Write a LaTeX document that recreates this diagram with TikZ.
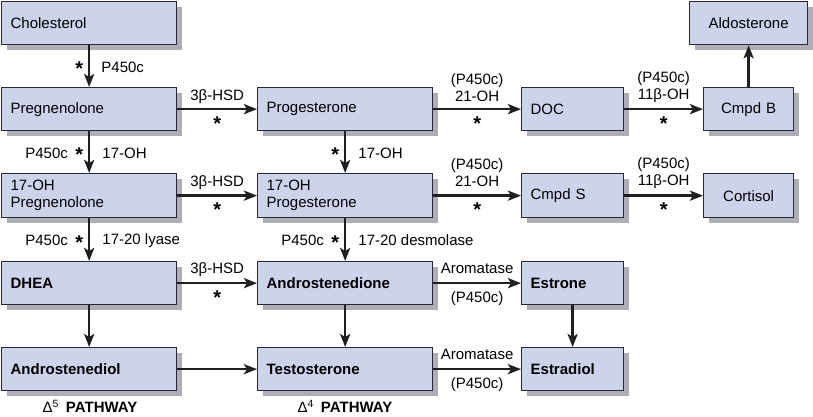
\documentclass[tikz,border=0pt]{standalone}
\usepackage{fontspec}
\setmainfont{Liberation Sans}
\usetikzlibrary{arrows.meta,shadows}
\definecolor{boxfill}{RGB}{206,211,236}
\definecolor{boxline}{RGB}{40,40,55}
\definecolor{shadecol}{RGB}{165,165,175}
\newcommand{\st}{{\fontsize{20}{20}\selectfont\textbf{*}}}
\begin{document}
\begin{tikzpicture}[x=1pt,y=-1pt, font=\fontsize{15}{17}\selectfont,
 box/.style={draw=boxline, line width=1.3pt, fill=boxfill, inner xsep=9pt, inner ysep=0pt,
   align=left, anchor=north west, minimum height=43pt,
   drop shadow={shadow xshift=5pt, shadow yshift=-5pt, fill=shadecol, opacity=0.9}},
 wa/.style={text width=157pt},
 wb/.style={text width=84pt},
 wc/.style={text width=72pt, align=center},
 wd/.style={text width=100pt, align=center},
 bf/.style={font=\fontsize{15}{17}\selectfont\bfseries},
 arr/.style={-{Stealth[length=13pt,width=10pt,inset=3pt]}, line width=2.6pt, draw=black!88},
 lab/.style={inner sep=0pt},
 star/.style={inner sep=0pt, pos=0.52},
]
\useasboundingbox (0,0) rectangle (813,416);
% column 1
\node[box,wa] (chol) at (1,1) {Cholesterol};
\node[box,wa] (preg) at (1,87) {Pregnenolone};
\node[box,wa,minimum height=44pt] (ohp) at (1,173) {17-OH\\Pregnenolone};
\node[box,wa,bf] (dhea) at (1,261) {DHEA};
\node[box,wa,bf] (adiol) at (1,347) {Androstenediol};
% column 2
\node[box,wa] (prog) at (257,87) {Progesterone};
\node[box,wa,minimum height=44pt] (ohprog) at (257,173) {17-OH\\Progesterone};
\node[box,wa,bf] (andro) at (257,261) {Androstenedione};
\node[box,wa,bf] (testo) at (257,347) {Testosterone};
% column 3
\node[box,wb] (doc) at (521,87) {DOC};
\node[box,wb,minimum height=44pt] (cmpds) at (521,173) {Cmpd S};
\node[box,wb,bf] (estrone) at (521,261) {Estrone};
\node[box,wb,bf] (estradiol) at (521,347) {Estradiol};
% column 4
\node[box,wd] (aldo) at (689,1) {Aldosterone};
\node[box,wc] (cmpdb) at (703,87) {Cmpd B};
\node[box,wc,minimum height=44pt] (cortisol) at (703,173) {Cortisol};

% vertical arrows
\draw[arr] (chol) -- node[star,xshift=-10pt,yshift=-2pt]{\st} node[lab,pos=0.52,anchor=west,xshift=11pt]{P450c} (preg);
\draw[arr] (preg) -- node[star,xshift=-10pt,yshift=-2pt]{\st} node[lab,pos=0.52,anchor=east,xshift=-20pt]{P450c} node[lab,pos=0.52,anchor=west,xshift=12pt]{17-OH} (ohp);
\draw[arr] (ohp) -- node[star,xshift=-10pt,yshift=-2pt]{\st} node[lab,pos=0.52,anchor=east,xshift=-20pt]{P450c} node[lab,pos=0.52,anchor=west,xshift=12pt]{17-20 lyase} (dhea);
\draw[arr] (dhea) -- (adiol);
\draw[arr] (prog) -- node[star,xshift=-10pt,yshift=-2pt]{\st} node[lab,pos=0.52,anchor=west,xshift=12pt]{17-OH} (ohprog);
\draw[arr] (ohprog) -- node[star,xshift=-10pt,yshift=-2pt]{\st} node[lab,pos=0.52,anchor=east,xshift=-20pt]{P450c} node[lab,pos=0.52,anchor=west,xshift=12pt]{17-20 desmolase} (andro);
\draw[arr] (andro) -- (testo);
\draw[arr] (estrone) -- (estradiol);
\draw[arr] (cmpdb) -- (aldo);

% horizontal arrows
\draw[arr] (preg) -- node[lab,yshift=13pt]{3β-HSD} node[star,pos=0.5,yshift=-14pt]{\st} (prog);
\draw[arr] (ohp) -- node[lab,yshift=13pt]{3β-HSD} node[star,pos=0.5,yshift=-14pt]{\st} (ohprog);
\draw[arr] (dhea) -- node[lab,yshift=14pt]{3β-HSD} node[star,pos=0.5,yshift=-14pt]{\st} (andro);
\draw[arr] (adiol) -- (testo);
\draw[arr] (prog) -- node[lab,align=center,yshift=22pt]{(P450c)\\21-OH} node[star,pos=0.5,yshift=-14pt]{\st} (doc);
\draw[arr] (ohprog) -- node[lab,align=center,yshift=23pt]{(P450c)\\21-OH} node[star,pos=0.5,yshift=-14pt]{\st} (cmpds);
\draw[arr] (doc) -- node[lab,align=center,yshift=22pt]{(P450c)\\11β-OH} node[star,pos=0.5,yshift=-14pt]{\st} (cmpdb);
\draw[arr] (cmpds) -- node[lab,align=center,yshift=23pt]{(P450c)\\11β-OH} node[star,pos=0.5,yshift=-14pt]{\st} (cortisol);
\draw[arr] (andro) -- node[lab,yshift=15pt]{Aromatase} node[lab,yshift=-15pt]{(P450c)} (estrone);
\draw[arr] (testo) -- node[lab,yshift=15pt]{Aromatase} node[lab,yshift=-15pt]{(P450c)} (estradiol);

% pathway labels
\node[lab,font=\fontsize{15}{17}\selectfont] (d5) at (90,406) {Δ\textsuperscript{5}\hspace{7pt}\textbf{PATHWAY}};
\node[lab,font=\fontsize{15}{17}\selectfont] (d4) at (345,406) {Δ\textsuperscript{4}\hspace{7pt}\textbf{PATHWAY}};
\end{tikzpicture}
\end{document}
